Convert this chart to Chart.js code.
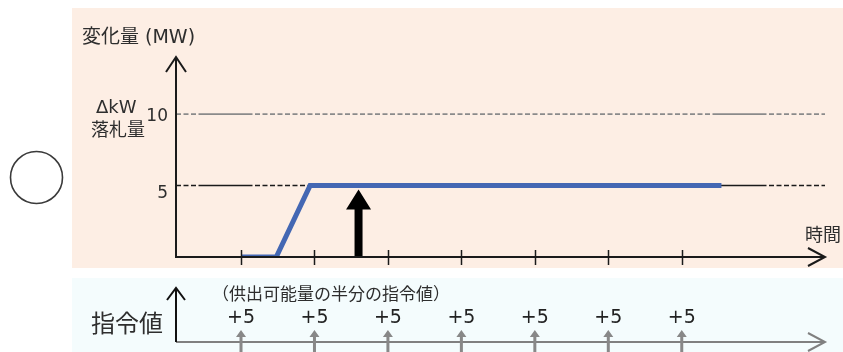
<!DOCTYPE html>
<html lang="ja">
<head>
<meta charset="utf-8">
<script src="https://cdn.jsdelivr.net/npm/chart.js@4.4.1/dist/chart.umd.min.js"></script>
<style>
  html, body { margin: 0; padding: 0; background: #fff; }
  #wrap { width: 843px; height: 352px; }
</style>
</head>
<body>
<div id="wrap"><canvas id="chart" width="843" height="352"></canvas></div>
<script>
// time ticks on the horizontal axis (one per command interval)
const timeTicks = [1, 2, 3, 4, 5, 6, 7];

// output change of the resource (MW)
const responseTimes = [1, 1.48, 1.94, 7.54];
const responseMW = [0, 0, 5, 5];

// reference levels on the vertical axis
const awardedMW = 10;   // ΔkW 落札量
const halfMW = 5;
const levelTicks = [5, 10];

// black arrow showing the half-capacity step
const arrowTime = 2.6;
const arrowMW = 5;

// commands issued at every interval
const commandTimes = [1, 2, 3, 4, 5, 6, 7];
const commandValues = [5, 5, 5, 5, 5, 5, 5];

const X_MIN = 0.115, X_MAX = 8.95;
const LATIN = '"DejaVu Sans", "Noto Sans CJK JP", sans-serif';
const JP = '"Noto Sans CJK JP", sans-serif';

// dashed guide with two long solid runs
function guideDash() {
  const d = [];
  const dashes = n => { for (let i = 0; i < n; i++) d.push(5, 2.5); };
  dashes(3); d.push(54, 2.5); dashes(61); d.push(54, 2.5); dashes(12);
  return d;
}

function openHead(ctx, tipX, tipY, dir, len, half) {
  ctx.beginPath();
  if (dir === 'up') {
    ctx.moveTo(tipX - half, tipY + len);
    ctx.lineTo(tipX, tipY);
    ctx.lineTo(tipX + half, tipY + len);
  } else {
    ctx.moveTo(tipX - len, tipY - half);
    ctx.lineTo(tipX, tipY);
    ctx.lineTo(tipX - len, tipY + half);
  }
  ctx.stroke();
}

function solidUpArrow(ctx, x, yBase, yTip, shaftW, headW, headH) {
  ctx.beginPath();
  ctx.moveTo(x - shaftW / 2, yBase);
  ctx.lineTo(x - shaftW / 2, yTip + headH);
  ctx.lineTo(x - headW / 2, yTip + headH);
  ctx.lineTo(x, yTip);
  ctx.lineTo(x + headW / 2, yTip + headH);
  ctx.lineTo(x + shaftW / 2, yTip + headH);
  ctx.lineTo(x + shaftW / 2, yBase);
  ctx.closePath();
  ctx.fill();
}

const sketch = {
  id: 'sketch',
  beforeDraw(chart) {
    const ctx = chart.ctx;
    ctx.save();
    // panels
    ctx.fillStyle = '#fdeee4';
    ctx.fillRect(72, 8, 771, 260);
    ctx.fillStyle = '#f4fcfd';
    ctx.fillRect(72, 278, 771, 74);
    // circle mark on the left
    ctx.strokeStyle = '#3a3a3a';
    ctx.lineWidth = 1.6;
    ctx.beginPath();
    ctx.arc(36.5, 177.5, 26, 0, Math.PI * 2);
    ctx.stroke();
    ctx.restore();
  },
  afterDatasetsDraw(chart) {
    const ctx = chart.ctx;
    const x = chart.scales.x, y = chart.scales.y;
    ctx.save();
    ctx.fillStyle = '#000';
    solidUpArrow(ctx, x.getPixelForValue(arrowTime), y.getPixelForValue(0),
      y.getPixelForValue(arrowMW) + 4, 8, 25, 20);
    ctx.restore();
  },
  afterDraw(chart) {
    const ctx = chart.ctx;
    const x = chart.scales.x, y = chart.scales.y;
    const area = chart.chartArea;
    const x0 = x.getPixelForValue(X_MIN);
    const y0 = y.getPixelForValue(0);
    ctx.save();

    // main axes
    ctx.strokeStyle = '#1a1a1a';
    ctx.lineWidth = 2;
    ctx.beginPath();
    ctx.moveTo(x0, area.top);
    ctx.lineTo(x0, y0);
    ctx.lineTo(area.right, y0);
    ctx.stroke();
    openHead(ctx, x0, area.top, 'up', 15, 10);
    openHead(ctx, area.right, y0, 'right', 17, 9);

    ctx.lineWidth = 1.5;
    timeTicks.forEach(t => {
      const px = Math.round(x.getPixelForValue(t)) + 0.5;
      ctx.beginPath();
      ctx.moveTo(px, y0 - 7);
      ctx.lineTo(px, y0 + 8);
      ctx.stroke();
    });

    // axis texts
    ctx.fillStyle = '#2e2e2e';
    ctx.textBaseline = 'middle';
    ctx.textAlign = 'left';
    ctx.font = '19px ' + LATIN;
    ctx.fillText('変化量 (MW)', 82, 38);
    ctx.font = '18px ' + LATIN;
    ctx.fillText('ΔkW', 96, 108);
    ctx.font = '18px ' + JP;
    ctx.fillText('落札量', 91, 129);
    ctx.fillText('時間', 805, 234);

    ctx.textAlign = 'right';
    ctx.font = '17px ' + LATIN;
    levelTicks.forEach(v => {
      const off = v === awardedMW ? 2 : 8;
      ctx.fillText(String(v), 168, y.getPixelForValue(v) + off);
    });

    // command panel
    const cy = 342;
    ctx.strokeStyle = '#808080';
    ctx.lineWidth = 2;
    ctx.beginPath();
    ctx.moveTo(x0, cy);
    ctx.lineTo(area.right, cy);
    ctx.stroke();
    openHead(ctx, area.right, cy, 'right', 17, 9);

    ctx.strokeStyle = '#111';
    ctx.beginPath();
    ctx.moveTo(x0, cy);
    ctx.lineTo(x0, 288);
    ctx.stroke();
    openHead(ctx, x0, 288, 'up', 12, 9);

    ctx.fillStyle = '#888';
    commandTimes.forEach(t => {
      solidUpArrow(ctx, x.getPixelForValue(t), 352, 330, 3, 10, 7);
    });

    ctx.fillStyle = '#222';
    ctx.textAlign = 'center';
    ctx.font = '19px ' + LATIN;
    commandTimes.forEach((t, i) => {
      ctx.fillText('+' + commandValues[i], x.getPixelForValue(t), 318);
    });

    ctx.fillStyle = '#2e2e2e';
    ctx.textAlign = 'left';
    ctx.font = '24px ' + JP;
    ctx.fillText('指令値', 91, 323);
    ctx.font = '17px ' + JP;
    ctx.fillText('（供出可能量の半分の指令値）', 212, 294);

    ctx.restore();
  }
};

new Chart(document.getElementById('chart'), {
  type: 'line',
  data: {
    datasets: [
      {
        label: 'response',
        data: responseTimes.map((t, i) => ({ x: t, y: responseMW[i] })),
        borderColor: '#4467b3',
        borderWidth: 5,
        pointRadius: 0,
        tension: 0,
        borderJoinStyle: 'miter',
        clip: { left: 5, top: 5, right: 5, bottom: 0 },
        order: 0
      },
      {
        label: 'half',
        data: [{ x: X_MIN, y: halfMW }, { x: X_MAX, y: halfMW }],
        borderColor: '#1a1a1a',
        borderWidth: 1.5,
        borderDash: guideDash(),
        pointRadius: 0,
        order: 1
      },
      {
        label: 'awarded',
        data: [{ x: X_MIN, y: awardedMW }, { x: X_MAX, y: awardedMW }],
        borderColor: '#8a8a8a',
        borderWidth: 1.8,
        borderDash: guideDash(),
        pointRadius: 0,
        order: 1
      }
    ]
  },
  options: {
    responsive: false,
    animation: false,
    layout: { padding: { left: 176, right: 18, top: 57, bottom: 95 } },
    scales: {
      x: { type: 'linear', display: false, min: X_MIN, max: X_MAX },
      y: { type: 'linear', display: false, min: 0, max: 14 }
    },
    plugins: {
      legend: { display: false },
      title: { display: false },
      tooltip: { enabled: false }
    }
  },
  plugins: [sketch]
});
</script>
</body>
</html>
